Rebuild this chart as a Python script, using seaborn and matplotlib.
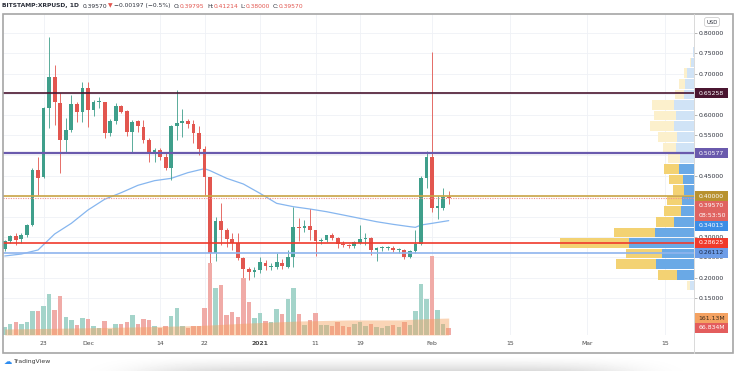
import numpy as np
import pandas as pd
import seaborn as sns
import matplotlib
matplotlib.use("Agg")
import matplotlib.pyplot as plt
from matplotlib.patches import Rectangle
from matplotlib.lines import Line2D
from matplotlib.ticker import FuncFormatter
from matplotlib.transforms import IdentityTransform

# ---- data (BITSTAMP:XRPUSD, 1D) ----
first_day = "2020-11-16"

opens = [0.271, 0.289, 0.303, 0.294, 0.305, 0.329, 0.464, 0.448, 0.615, 0.693,
         0.628, 0.538, 0.562, 0.625, 0.606, 0.664, 0.611, 0.630, 0.630, 0.554,
         0.585, 0.621, 0.609, 0.558, 0.584, 0.570, 0.538, 0.507, 0.513, 0.497,
         0.468, 0.571, 0.579, 0.585, 0.577, 0.556, 0.515, 0.446, 0.262, 0.338,
         0.317, 0.295, 0.285, 0.248, 0.222, 0.213, 0.220, 0.237, 0.226, 0.226,
         0.237, 0.226, 0.250, 0.325, 0.321, 0.327, 0.316, 0.289, 0.293, 0.306,
         0.297, 0.283, 0.280, 0.279, 0.286, 0.296, 0.297, 0.268, 0.273, 0.273,
         0.274, 0.267, 0.268, 0.252, 0.266, 0.284, 0.444, 0.495, 0.372, 0.372, 0.39795]
highs = [0.292, 0.305, 0.309, 0.309, 0.333, 0.468, 0.497, 0.619, 0.789, 0.722,
         0.652, 0.591, 0.648, 0.632, 0.681, 0.679, 0.636, 0.644, 0.632, 0.590,
         0.628, 0.624, 0.612, 0.587, 0.588, 0.587, 0.542, 0.518, 0.517, 0.505,
         0.575, 0.660, 0.613, 0.589, 0.587, 0.571, 0.522, 0.446, 0.350, 0.384,
         0.322, 0.310, 0.309, 0.251, 0.226, 0.226, 0.252, 0.243, 0.236, 0.262,
         0.245, 0.268, 0.373, 0.346, 0.342, 0.368, 0.318, 0.298, 0.306, 0.310,
         0.300, 0.290, 0.284, 0.289, 0.329, 0.309, 0.300, 0.276, 0.278, 0.279,
         0.278, 0.272, 0.270, 0.268, 0.317, 0.450, 0.511, 0.754, 0.400, 0.420, 0.41214]
lows = [0.265, 0.285, 0.280, 0.285, 0.301, 0.328, 0.403, 0.445, 0.566, 0.575,
        0.456, 0.505, 0.558, 0.583, 0.583, 0.570, 0.596, 0.616, 0.542, 0.548,
        0.578, 0.603, 0.548, 0.505, 0.558, 0.530, 0.485, 0.485, 0.489, 0.464,
        0.440, 0.538, 0.546, 0.567, 0.530, 0.501, 0.403, 0.236, 0.240, 0.280,
        0.276, 0.268, 0.244, 0.172, 0.195, 0.203, 0.211, 0.218, 0.218, 0.222,
        0.221, 0.224, 0.227, 0.289, 0.313, 0.293, 0.253, 0.282, 0.288, 0.293,
        0.272, 0.276, 0.273, 0.274, 0.282, 0.280, 0.255, 0.240, 0.265, 0.268,
        0.263, 0.262, 0.245, 0.248, 0.262, 0.280, 0.419, 0.362, 0.343, 0.365, 0.38000]
closes = [0.289, 0.303, 0.293, 0.305, 0.329, 0.464, 0.445, 0.615, 0.693, 0.632,
          0.538, 0.562, 0.625, 0.606, 0.664, 0.611, 0.630, 0.631, 0.554, 0.584,
          0.621, 0.607, 0.558, 0.583, 0.571, 0.538, 0.507, 0.513, 0.497, 0.468,
          0.571, 0.579, 0.584, 0.577, 0.556, 0.515, 0.446, 0.262, 0.338, 0.317,
          0.295, 0.285, 0.248, 0.222, 0.213, 0.220, 0.238, 0.228, 0.230, 0.238,
          0.228, 0.250, 0.324, 0.321, 0.327, 0.316, 0.289, 0.293, 0.306, 0.297,
          0.283, 0.280, 0.279, 0.287, 0.295, 0.297, 0.268, 0.273, 0.274, 0.276,
          0.267, 0.268, 0.252, 0.266, 0.284, 0.444, 0.495, 0.372, 0.376, 0.398, 0.39570]
# volume in millions
volumes = [76, 105, 124, 105, 124, 228, 228, 276, 390, 238,
           371, 171, 143, 95, 162, 152, 86, 67, 133, 57,
           105, 105, 124, 190, 105, 152, 143, 86, 67, 86,
           181, 257, 86, 67, 86, 86, 257, 684, 447, 475,
           190, 219, 171, 542, 314, 162, 209, 133, 124, 247,
           200, 342, 447, 200, 95, 143, 209, 95, 95, 86,
           124, 86, 76, 105, 124, 86, 105, 76, 67, 86,
           95, 76, 124, 95, 228, 485, 342, 751, 238, 105, 66.834]

# moving average of price (read at some days)
ma_day = [0, 3, 6, 9, 12, 15, 18, 21, 24, 27, 30, 33, 36, 37, 40, 43, 46, 49,
          52, 55, 58, 61, 64, 67, 70, 73, 74, 75, 77, 80]
ma_val = [0.2535, 0.2583, 0.2682, 0.3074, 0.3335, 0.3662, 0.3924, 0.4087, 0.4267,
          0.4381, 0.4438, 0.4577, 0.4675, 0.4626, 0.4438, 0.4299, 0.4070, 0.3825,
          0.3743, 0.3686, 0.3620, 0.3539, 0.3457, 0.3375, 0.3310, 0.3253, 0.3237,
          0.3294, 0.3335, 0.3401]
# moving average of volume (millions)
vma_day = [0, 12, 23, 35, 44, 53, 62, 71, 77, 80]
vma_val = [57, 66, 76, 90, 114, 133, 143, 143, 157, 161.13]

# visible-range volume profile (row centre price, up / down volume, relative)
vp_price = [0.7534, 0.7274, 0.7014, 0.6754, 0.6494, 0.6234, 0.5974, 0.5714, 0.5454,
            0.5194, 0.4934, 0.4674, 0.4414, 0.4154, 0.3894, 0.3634, 0.3374, 0.3114,
            0.2854, 0.2594, 0.2334, 0.2074, 0.1814]
vp_up = [1.3, 3.0, 6.5, 8.5, 10.3, 20.3, 18.0, 19.5, 17.3, 17.7, 14.3, 14.7,
         11.3, 9.5, 12.0, 13.3, 20.0, 39.3, 64.7, 32.0, 38.0, 17.3, 4.0]
vp_down = [0.0, 1.3, 3.0, 6.7, 8.2, 21.5, 22.3, 24.2, 18.9, 13.3, 11.4, 15.1,
           13.9, 11.5, 15.3, 16.7, 18.0, 40.4, 69.3, 36.0, 40.0, 19.0, 2.7]
va_low, va_high = 0.195, 0.48

levels = [0.65258, 0.50577, 0.40000, 0.28625, 0.26112]
last_close = 0.39570
ma_last = 0.34013

price_ticks = [0.15, 0.20, 0.25, 0.30, 0.35, 0.40, 0.45, 0.50, 0.55, 0.60, 0.65, 0.70, 0.75, 0.80]
covered_ticks = [0.35, 0.40, 0.50, 0.65]   # hidden behind the price tags
tick_dates = ["2020-11-23", "2020-12-01", "2020-12-14", "2020-12-22", "2021-01-01", "2021-01-11",
              "2021-01-19", "2021-02-01", "2021-02-15", "2021-03-01", "2021-03-15"]
tick_labels = ["23", "Dec", "14", "22", "2021", "11", "19", "Feb", "15", "Mar", "15"]

# ---- style ----
sns.set_style("white")
plt.rcParams["font.family"] = ["DejaVu Sans"]
FS = 4.4
TXT = "#2a2e39"
UP, DOWN = "#3f9f8b", "#e2564f"

W, H = 736, 371
fig = plt.figure(figsize=(W / 100, H / 100), dpi=100, facecolor="white")

# soft shadow under the card
ax_bg = fig.add_axes([0, 0, 1, 1], zorder=-10)
ax_bg.set_axis_off()
rr = np.clip((np.arange(H) - 355) / 16, 0, 1) ** 1.5
cc = np.exp(-((np.arange(W) - 385) / 240) ** 6)
ax_bg.imshow(1 - 0.16 * rr[:, None] * cc[None, :], cmap="gray", vmin=0, vmax=1,
             extent=[0, W, H, 0], aspect="auto", interpolation="bilinear")

L, R, T, B = 3, 694, 14, 335
ax = fig.add_axes([L / W, 1 - B / H, (R - L) / W, (B - T) / H])
ax_v = ax.twinx()
ax_p = ax.twiny()

start = pd.Timestamp(first_day)
day = np.arange(len(opens))
o, h, l, c = map(np.array, (opens, highs, lows, closes))
rising = c >= o
cols = np.where(rising, UP, DOWN)

# price MA + candles
sns.lineplot(x=ma_day, y=ma_val, ax=ax, color="#86b6ef", lw=0.9, zorder=2)
ax.vlines(day, l, h, colors=cols, lw=0.6, zorder=3)
ax.bar(day, np.maximum(np.abs(c - o), 0.0025), bottom=np.minimum(o, c), width=0.68,
       color=cols, lw=0, zorder=4)

# volume
vol_df = pd.DataFrame({"day": day, "vol": volumes, "side": np.where(rising, "up", "down")})
sns.barplot(data=vol_df, x="day", y="vol", hue="side", palette={"up": "#a4d4ca", "down": "#f0aba7"},
            native_scale=True, dodge=False, width=0.8, saturation=1, legend=False,
            errorbar=None, linewidth=0, ax=ax_v)
ax_v.fill_between(vma_day, 0, vma_val, color="#f6a25f", alpha=0.45, lw=0)

# volume profile, anchored at the right edge
vp_p = np.array(vp_price)
inside = (vp_p > va_low) & (vp_p < va_high)
up_v, dn_v = np.array(vp_up), np.array(vp_down)
ax_p.barh(vp_p, up_v + dn_v, height=0.0235, left=0, color=np.where(inside, "#f3d273", "#fcf0cc"), lw=0)
ax_p.barh(vp_p, up_v, height=0.0235, left=0, color=np.where(inside, "#6aa9e6", "#d0e3f6"), lw=0)

level_colors = ["#4a1530", "#6a5aad", "#c9a445", "#f03a2c", "#8fb4ee"]
level_widths = [1.2, 1.6, 1.2, 1.2, 1.2]
for lv, col, lw in zip(levels, level_colors, level_widths):
    ax_p.axhline(lv, color=col, lw=lw)
ax_p.axhline(last_close, color="#ef9090", lw=0.8, ls=(0, (1, 1.2)))

# limits / ticks
ax.set_xlim(-0.31, 124.2)
ax.set_ylim(0.0598, 0.8466)
ax_v.set_ylim(0, 3050)
ax_p.set_xlim(R - L, 0)

ax.set_xticks([(pd.Timestamp(d) - start).days for d in tick_dates])
ax.set_xticklabels(tick_labels)
ax.get_xticklabels()[4].set_fontweight("bold")
ax.set_yticks(price_ticks)
ax.yaxis.set_major_formatter(FuncFormatter(
    lambda v, _: "" if any(abs(v - t) < 1e-6 for t in covered_ticks) else "%.5f" % v))
ax.yaxis.tick_right()
ax.tick_params(axis="y", length=2, width=0.5, color="#9a9a9a", pad=1.5, labelsize=FS, labelcolor=TXT)
ax.tick_params(axis="x", length=0, pad=4.5, labelsize=FS, labelcolor="#4a4a4a")
ax.grid(True, color="#eff1f6", lw=0.6)
ax.set_axisbelow(True)
ax.set_xlabel("")
ax.set_ylabel("")
for s in ax.spines.values():
    s.set_visible(False)
ax_v.set_axis_off()
ax_p.set_axis_off()


def tag(trans, y, text, fc, tc):
    yp = trans.transform((0, y))[1]
    fig.add_artist(Rectangle((694, yp - 5), 34, 10, transform=IdentityTransform(),
                             fc=fc, ec="none", zorder=10))
    fig.text(698.5, yp, text, transform=IdentityTransform(), fontsize=FS, color=tc,
             va="center", ha="left", zorder=11)


tag(ax.transData, levels[0], "%.5f" % levels[0], "#4a1530", "white")
tag(ax.transData, levels[1], "%.5f" % levels[1], "#6a5aad", "white")
tag(ax.transData, 0.376, "%.5f" % last_close, "#e06461", "white")
tag(ax.transData, 0.352, "08:53:50", "#e06461", "white")
tag(ax.transData, 0.327, "%.5f" % ma_last, "#3d8ee6", "white")
tag(ax.transData, levels[2], "%.5f" % levels[2], "#b8922f", "white")
tag(ax.transData, levels[3], "%.5f" % levels[3], "#f03a2c", "white")
tag(ax.transData, levels[4], "%.5f" % levels[4], "#6d9de8", "#1c2a48")
tag(ax_v.transData, vma_val[-1], "161.13M", "#f4a262", "#3a2a1a")
tag(ax_v.transData, volumes[-1], "66.834M", "#e35d5d", "white")

fig.text(712, H - 22, "USD", transform=IdentityTransform(), fontsize=3.8, color=TXT,
         ha="center", va="center",
         bbox=dict(boxstyle="round,pad=0.35", fc="white", ec="#c4c4c4", lw=0.5))

# header line
header_parts = [("BITSTAMP:XRPUSD, 1D", TXT, True, 3.5), ("0.39570", TXT, False, 1),
                ("\u25bc", DOWN, False, 1.5), ("\u22120.00197 (\u22120.5%)", TXT, False, 2.5),
                ("O:", TXT, False, 0), ("0.39795", DOWN, False, 2.5),
                ("H:", TXT, False, 0), ("0.41214", DOWN, False, 2.5),
                ("L:", TXT, False, 0), ("0.38000", DOWN, False, 2.5),
                ("C:", TXT, False, 0), ("0.39570", DOWN, False, 0)]
renderer = fig.canvas.get_renderer()
x = 2
for txt, col, bold, gap in header_parts:
    t = fig.text(x, H - 6, txt, transform=IdentityTransform(), fontsize=4.3, color=col,
                 weight="bold" if bold else "normal", va="center")
    x += t.get_window_extent(renderer).width + gap

# frame
fig.add_artist(Rectangle((3, H - 353), 730, 339, transform=IdentityTransform(), fill=False,
                         ec="#a6a6a6", lw=1.2, zorder=12))
fig.add_artist(Line2D([694, 694], [H - 353, H - 14], transform=IdentityTransform(),
                      color="#d9d9d9", lw=0.7, zorder=12))

# logo
fig.text(4, H - 362, "\u2601", transform=IdentityTransform(), fontsize=6, color="#2d8cf0", va="center")
fig.text(14, H - 362, "TradingView", transform=IdentityTransform(), fontsize=FS, color="#3a3a3a", va="center")

fig.savefig("out.png", dpi=100, facecolor="white")
